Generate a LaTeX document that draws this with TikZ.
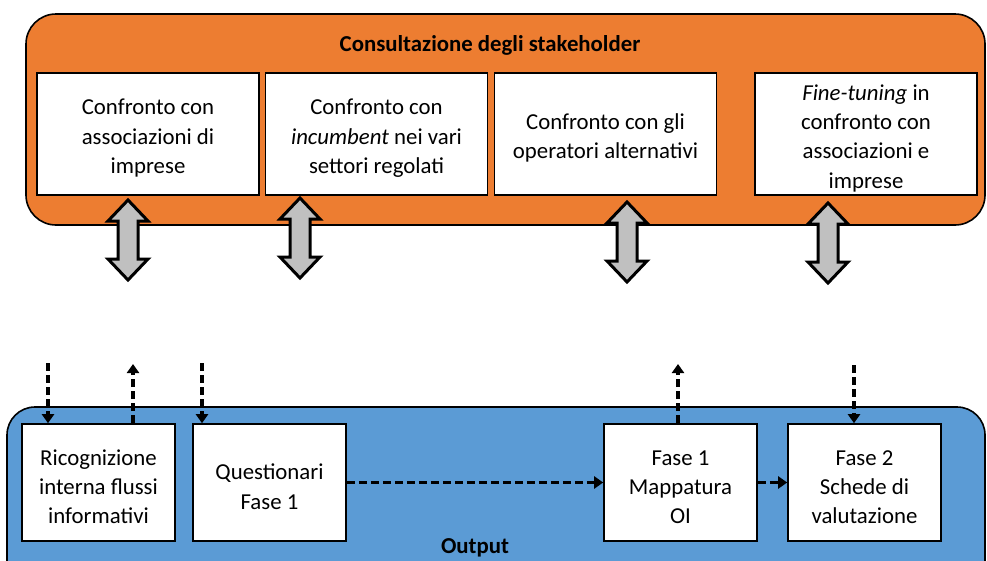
\documentclass[tikz,border=0pt]{standalone}
\usepackage{fontspec}
\setmainfont{Carlito}
\usetikzlibrary{arrows.meta}
\definecolor{consult}{RGB}{237,125,49}
\definecolor{outbox}{RGB}{91,155,213}
\definecolor{dblgray}{RGB}{192,192,192}
\newcommand{\lowertext}{\rule{0pt}{24pt}} % pushes box text a little down

\begin{document}
\begin{tikzpicture}[x=1pt,y=-1pt,
    stepbox/.style={draw=black,line width=1.6pt,fill=white,align=center,inner sep=0pt,
        font=\fontsize{22.8}{29.3}\selectfont},
    topbox/.style={stepbox,minimum width=222pt,minimum height=122pt},
    lowbox/.style={stepbox,minimum width=153pt,minimum height=117pt},
    flow/.style={line width=3.2pt,dash pattern=on 8pt off 4pt,-{Triangle[length=9pt,width=12pt]}},
    dblarrow/.style={draw=black,line width=3pt,fill=dblgray},
    heading/.style={font=\fontsize{22.8}{29.3}\selectfont\bfseries,inner sep=0pt}
]
    \clip (0,0) rectangle (987,560); % page is 987 x 560

    % stakeholder area
    \draw[fill=consult,line width=1.6pt,rounded corners=30pt] (26,14) rectangle (985,225);
    \node[heading] (consult) at (490,45) {Consultazione degli stakeholder};

    \node[topbox] (assoc) at (148,134) {\lowertext Confronto con\\associazioni di\\imprese};
    \node[topbox] (incumb) at (376.5,134) {\lowertext Confronto con\\\textit{incumbent} nei vari\\settori regolati};
    \node[topbox] (altern) at (605.5,134) {\lowertext Confronto con gli\\operatori alternativi};
    \node[topbox] (tuning) at (866,134) {\lowertext\textit{Fine-tuning} in\\confronto con\\associazioni e\\imprese};

    % grey two-way arrows
    \foreach \cx/\cy in {128/240,300/238,627/242,828/243}
        \draw[dblarrow] (\cx,\cy-40) -- ++(20,21) -- ++(-10,0) -- ++(0,38) -- ++(10,0)
            -- ++(-20,21) -- ++(-20,-21) -- ++(10,0) -- ++(0,-38) -- ++(-10,0) -- cycle;

    % output area
    \draw[fill=outbox,line width=1.6pt,rounded corners=28pt] (7,407) rectangle (985,590);
    \node[heading] (output) at (475,548) {Output};

    \node[lowbox] (ricog) at (98.5,482.5) {\lowertext Ricognizione\\interna flussi\\informativi};
    \node[lowbox] (quest) at (269.5,482.5) {\lowertext Questionari\\Fase 1};
    \node[lowbox] (fase1) at (680.5,482.5) {\lowertext Fase 1\\Mappatura\\OI};
    \node[lowbox] (fase2) at (864.5,482.5) {\lowertext Fase 2\\Schede di\\valutazione};

    % dashed flows
    \coordinate (inA) at (48,363);
    \coordinate (outA) at (133,364);
    \coordinate (inB) at (202,363);
    \coordinate (outC) at (678,364);
    \coordinate (inD) at (854,365);

    \draw[flow] (inA) -- (inA |- ricog.north);
    \draw[flow] (outA |- ricog.north) -- (outA);
    \draw[flow] (inB) -- (inB |- quest.north);
    \draw[flow] (outC |- fase1.north) -- (outC);
    \draw[flow] (inD) -- (inD |- fase2.north);
    \draw[flow] (quest.east) -- (fase1.west);
    \draw[flow] (fase1.east) -- (fase2.west);
\end{tikzpicture}
\end{document}
